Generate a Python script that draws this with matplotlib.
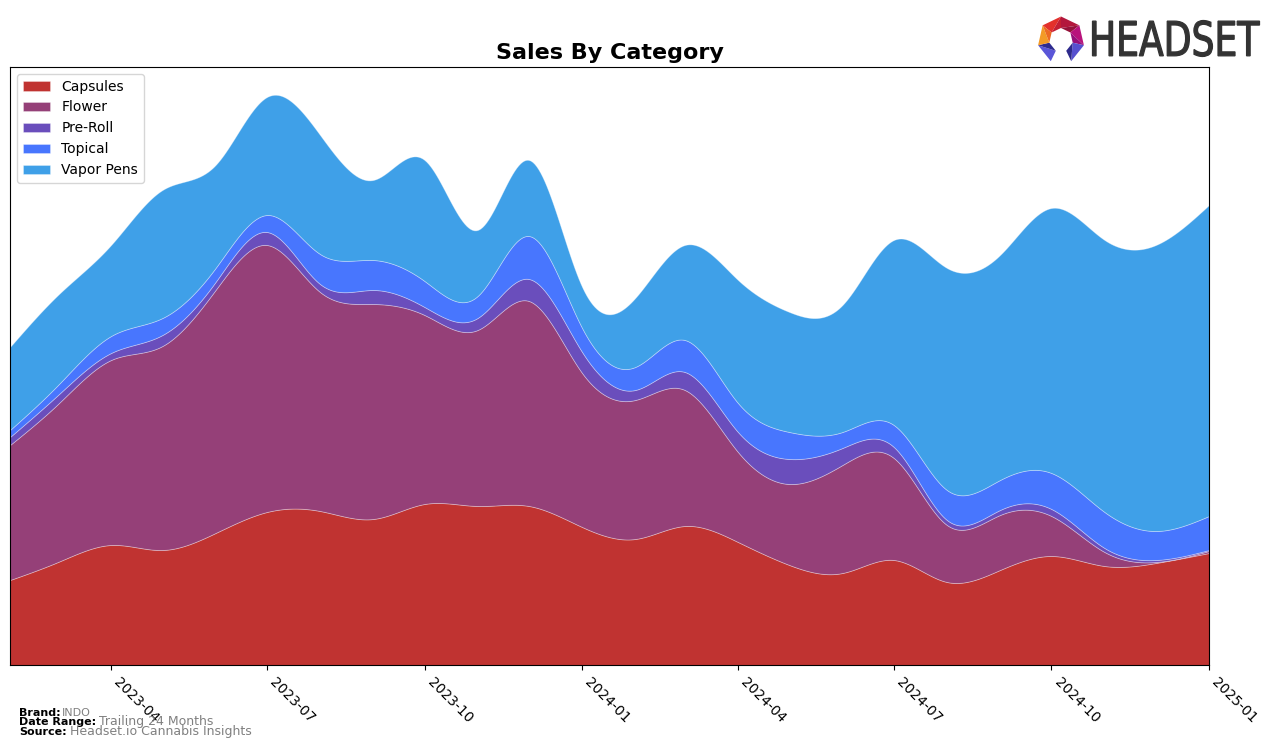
import numpy as np
import pandas as pd
import matplotlib
matplotlib.use("Agg")
import matplotlib.pyplot as plt
from matplotlib.patches import Polygon, PathPatch
from matplotlib.textpath import TextPath
from matplotlib.font_manager import FontProperties
from matplotlib.transforms import Affine2D

months = pd.date_range("2023-02-01", "2025-01-01", freq="MS")

categories = ["Capsules", "Flower", "Pre-Roll", "Topical", "Vapor Pens"]

capsules = [85, 103, 120, 115, 132, 153, 154, 146, 161, 159, 159, 138,
            126, 139, 123, 100, 92, 105, 83, 95, 109, 99, 102, 112]
flower = [135, 158, 185, 204, 243, 267, 219, 215, 189, 176, 205, 154,
          139, 136, 90, 81, 108, 102, 57, 55, 40, 14, 1, 2]
preroll = [8, 9, 7, 11, 8, 13, 8, 14, 8, 12, 22, 21,
           10, 18, 20, 25, 17, 11, 5, 5, 7, 4, 2, 1]
topical = [7, 10, 17, 17, 14, 17, 30, 30, 26, 22, 43, 24,
           23, 32, 29, 27, 16, 22, 30, 30, 36, 36, 29, 34]
vapor = [83, 90, 91, 128, 103, 118, 119, 80, 121, 66, 76, 41,
         69, 95, 123, 120, 127, 185, 222, 225, 265, 272, 286, 311]

colors = ["#C03331", "#954078", "#6A4EBC", "#4876FE", "#3FA0E8"]


def natural_spline(x, y, xs):
    # plain natural cubic spline, no scipy around
    x = np.asarray(x, float)
    y = np.asarray(y, float)
    n = len(x)
    h = np.diff(x)
    A = np.zeros((n, n))
    b = np.zeros(n)
    A[0, 0] = A[-1, -1] = 1
    for i in range(1, n - 1):
        A[i, i - 1] = h[i - 1]
        A[i, i] = 2 * (h[i - 1] + h[i])
        A[i, i + 1] = h[i]
        b[i] = 3 * ((y[i + 1] - y[i]) / h[i] - (y[i] - y[i - 1]) / h[i - 1])
    c = np.linalg.solve(A, b)
    idx = np.clip(np.searchsorted(x, xs) - 1, 0, n - 2)
    dx = xs - x[idx]
    bb = (y[idx + 1] - y[idx]) / h[idx] - h[idx] * (2 * c[idx] + c[idx + 1]) / 3
    d = (c[idx + 1] - c[idx]) / (3 * h[idx])
    return y[idx] + bb * dx + c[idx] * dx ** 2 + d * dx ** 3


days = (months - months[0]).days.values.astype(float)
fine = np.linspace(days[0], days[-1], 600)
fine_dates = months[0] + pd.to_timedelta(fine, unit="D")

series = [capsules, flower, preroll, topical, vapor]
smooth = [np.clip(natural_spline(days, s, fine), 0, None) for s in series]

fig = plt.figure(figsize=(12.76, 7.48), dpi=100)
ax = fig.add_axes([10 / 1276, 83 / 748, 1199 / 1276, 598 / 748])

ax.stackplot(fine_dates, *smooth, labels=categories, colors=colors,
             edgecolor=(1, 1, 1, 0.35), linewidth=0.6)

ax.set_xlim(months[0], months[-1])
ax.set_ylim(0, 598)
ax.set_yticks([])

ticks = pd.date_range("2023-04-01", "2025-01-01", freq="3MS")
ax.set_xticks(ticks)
ax.set_xticklabels([t.strftime("%Y-%m") for t in ticks], rotation=-45,
                   ha="left", fontsize=10)

ax.set_title("Sales By Category", fontsize=16, fontweight="bold", pad=6)
ax.legend(loc="upper left", fontsize=10, handlelength=2.0)

# footer
fig.text(19 / 1276, 1 - 713 / 748, "Brand:", fontsize=8, fontweight="bold", va="center")
fig.text(62 / 1276, 1 - 713 / 748, "INDO", fontsize=8, color="gray", va="center")
fig.text(19 / 1276, 1 - 722 / 748, "Date Range:", fontsize=8, fontweight="bold", va="center")
fig.text(99 / 1276, 1 - 722 / 748, "Trailing 24 Months", fontsize=9, color="gray", va="center")
fig.text(19 / 1276, 1 - 732 / 748, "Source:", fontsize=8, fontweight="bold", va="center")
fig.text(70 / 1276, 1 - 732 / 748, "Headset.io Cannabis Insights", fontsize=9, color="gray", va="center")

# logo, drawn on an overlay in pixel coords
lax = fig.add_axes([0, 0, 1, 1], facecolor="none")
lax.set_xlim(0, 1276)
lax.set_ylim(748, 0)
lax.axis("off")

tp = TextPath((0, 0), "HEADSET", size=100, prop=FontProperties(family="DejaVu Sans"))
ext = tp.get_extents()
sx = 167 / ext.width
sy = 36 / ext.height
tr = Affine2D().translate(-ext.x0, -ext.y0).scale(sx, -sy).translate(1092.5, 56.5)
lax.add_patch(PathPatch(tr.transform_path(tp), facecolor="#333333",
                        edgecolor="#333333", lw=0.9))

cx, cy, R, r = 1061, 40, 23.5, 12
angs = np.radians([141.4, 90, 38.6, 347.1, 295.7, 244.3, 192.9])
outer = [(cx + R * np.cos(a), cy - R * np.sin(a)) for a in angs]
inner = [(cx + r * np.cos(a), cy - r * np.sin(a)) for a in angs]
# segments: upper-left, upper-right, right, lower-right leg, (gap), lower-left leg, left
seg_cols = [("#E3302B", "#C41E33"), ("#B3173C", "#96133A"), ("#B8137C", "#96107A"),
            ("#5650CF", "#2E2A8C"), None, ("#5A56D8", "#2F2B90"), ("#F39A26", "#EC6A22")]
for i, cols in enumerate(seg_cols):
    if cols is None:
        continue
    j = (i + 1) % 7
    lax.add_patch(Polygon([outer[i], outer[j], inner[i]], closed=True, color=cols[0], lw=0))
    lax.add_patch(Polygon([outer[j], inner[j], inner[i]], closed=True, color=cols[1], lw=0))

fig.savefig("out.png", dpi=100)
